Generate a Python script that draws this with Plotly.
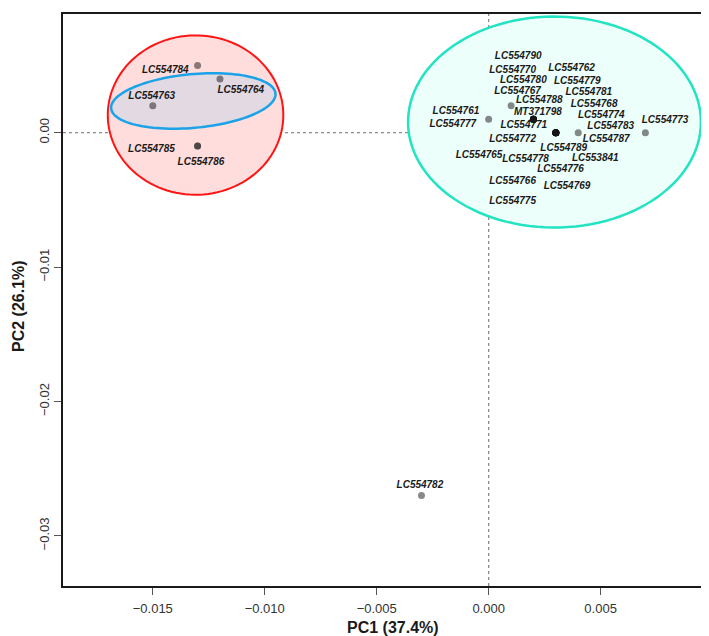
import numpy as np
import plotly.graph_objects as go

# ---------------- data ----------------
samples = [
    "LC554784", "LC554764", "LC554763", "LC554785", "LC554786", "LC554782",
    "LC554761", "LC554777", "LC554788", "LC554767", "MT371798", "LC554790",
    "LC554770", "LC554780", "LC554762", "LC554779", "LC554781", "LC554771",
    "LC554768", "LC554774", "LC554772", "LC554789", "LC554765", "LC554778",
    "LC553841", "LC554776", "LC554766", "LC554769", "LC554775", "LC554783",
    "LC554787", "LC554773",
]
pc1 = [
    -0.013, -0.012, -0.015, -0.013, -0.013, -0.003,
    0.000, 0.002, 0.001, 0.002, 0.002, 0.002,
    0.002, 0.002, 0.002, 0.002, 0.002, 0.002,
    0.003, 0.003, 0.003, 0.003, 0.003, 0.003,
    0.003, 0.003, 0.003, 0.003, 0.003, 0.004,
    0.003, 0.007,
]
pc2 = [
    0.005, 0.004, 0.002, -0.001, -0.001, -0.027,
    0.001, 0.001, 0.002, 0.001, 0.001, 0.001,
    0.001, 0.001, 0.001, 0.001, 0.001, 0.001,
    0.000, 0.000, 0.000, 0.000, 0.000, 0.000,
    0.000, 0.000, 0.000, 0.000, 0.000, 0.000,
    0.000, 0.000,
]
# label anchor positions (data units)
label_x = [
    -0.01444, -0.01107, -0.01505, -0.01506, -0.01285, -0.00307,
    -0.00146, -0.00160, 0.00226, 0.00129, 0.00220, 0.00132,
    0.00107, 0.00155, 0.00370, 0.00396, 0.00447, 0.00157,
    0.00471, 0.00503, 0.00107, 0.00335, -0.00043, 0.00165,
    0.00476, 0.00321, 0.00107, 0.00350, 0.00107, 0.00545,
    0.00525, 0.00788,
]
label_y = [
    0.00464, 0.00311, 0.00272, -0.00128, -0.00222, -0.02627,
    0.00161, 0.00062, 0.00237, 0.00304, 0.00151, 0.00568,
    0.00464, 0.00385, 0.00477, 0.00378, 0.00299, 0.00050,
    0.00213, 0.00131, -0.00054, -0.00116, -0.00173, -0.00197,
    -0.00190, -0.00271, -0.00363, -0.00400, -0.00511, 0.00044,
    -0.00054, 0.00089,
]
x_ticks = [-0.015, -0.010, -0.005, 0.000, 0.005]
y_ticks = [0.00, -0.01, -0.02, -0.03]
x_title = "PC1 (37.4%)"
y_title = "PC2 (26.1%)"

X_RANGE = [-0.01901, 0.00993]
Y_RANGE = [-0.03373, 0.00883]


def ellipse_path(cx, cy, ux, uy, vx, vy, n=120):
    t = np.linspace(0, 2 * np.pi, n)
    xs = cx + ux * np.cos(t) + vx * np.sin(t)
    ys = cy + uy * np.cos(t) + vy * np.sin(t)
    pts = [f"{x:.6f},{y:.6f}" for x, y in zip(xs, ys)]
    return "M " + " L ".join(pts) + " Z"


fig = go.Figure()

# ellipses (group hulls)
fig.add_shape(type="path", xref="x", yref="y", layer="below",
              path=ellipse_path(-0.01309, 0.00131, 0.00392, 0.0, 0.0, 0.00593),
              fillcolor="#FFDDDD", line=dict(color="#FF1414", width=2))
fig.add_shape(type="path", xref="x", yref="y", layer="below",
              path=ellipse_path(-0.01319, 0.00236, 0.00367, 0.000556, -0.000109, 0.00199),
              fillcolor="#E3D9E2", line=dict(color="#1AA3E8", width=2.5))
fig.add_shape(type="path", xref="x", yref="y", layer="below",
              path=ellipse_path(0.00294, 0.00079, 0.00654, 0.0, 0.0, 0.00785),
              fillcolor="#EDFFFB", line=dict(color="#22E3C2", width=2.5))

# reference dotted lines
fig.add_shape(type="line", xref="paper", yref="y", x0=0, x1=1, y0=0, y1=0,
              layer="below", line=dict(color="#8c8c8c", width=1.3, dash="dot"))
fig.add_shape(type="line", xref="x", yref="paper", x0=0, x1=0, y0=0, y1=1,
              layer="below", line=dict(color="#8c8c8c", width=1.3, dash="dot"))

# points (semi-transparent: overlapping samples darken)
fig.add_trace(go.Scatter(
    x=pc1, y=pc2, mode="markers",
    marker=dict(size=7, color="rgba(20,20,20,0.5)", line=dict(width=0)),
    hovertext=samples, showlegend=False,
))

# labels
fig.add_trace(go.Scatter(
    x=label_x, y=label_y, mode="text", text=samples,
    textposition="middle center",
    textfont=dict(family="Liberation Sans, Arial, sans-serif", size=10,
                  color="#1a1a1a", weight="bold", style="italic"),
    showlegend=False, hoverinfo="skip",
))

axis_common = dict(
    showgrid=False, zeroline=False, showline=True, mirror=True,
    linecolor="#1a1a1a", linewidth=2, ticks="outside", ticklen=7,
    tickwidth=1, tickcolor="#555",
    tickfont=dict(family="Liberation Sans, Arial, sans-serif", size=13, color="#333"),
)

fig.update_xaxes(range=X_RANGE, tickvals=x_ticks, tickformat=".3f",
                 ticklabelstandoff=2, **axis_common)
fig.update_yaxes(range=Y_RANGE, tickvals=y_ticks, tickformat=".2f", tickangle=-90,
                 **axis_common)

fig.add_annotation(text=f"<b>{x_title}</b>", xref="paper", yref="paper",
                   x=0.51, y=-0.073, xanchor="center", yanchor="middle", showarrow=False,
                   font=dict(family="Liberation Sans, Arial, sans-serif", size=16, color="#1a1a1a"))
fig.add_annotation(text=f"<b>{y_title}</b>", xref="paper", yref="paper",
                   x=-0.069, y=0.49, xanchor="center", yanchor="middle", showarrow=False,
                   textangle=-90,
                   font=dict(family="Liberation Sans, Arial, sans-serif", size=16, color="#1a1a1a"))

fig.update_layout(
    width=709, height=636,
    margin=dict(l=55, r=4, t=4, b=58),
    plot_bgcolor="white", paper_bgcolor="white",
)

fig.write_html("out.html")
